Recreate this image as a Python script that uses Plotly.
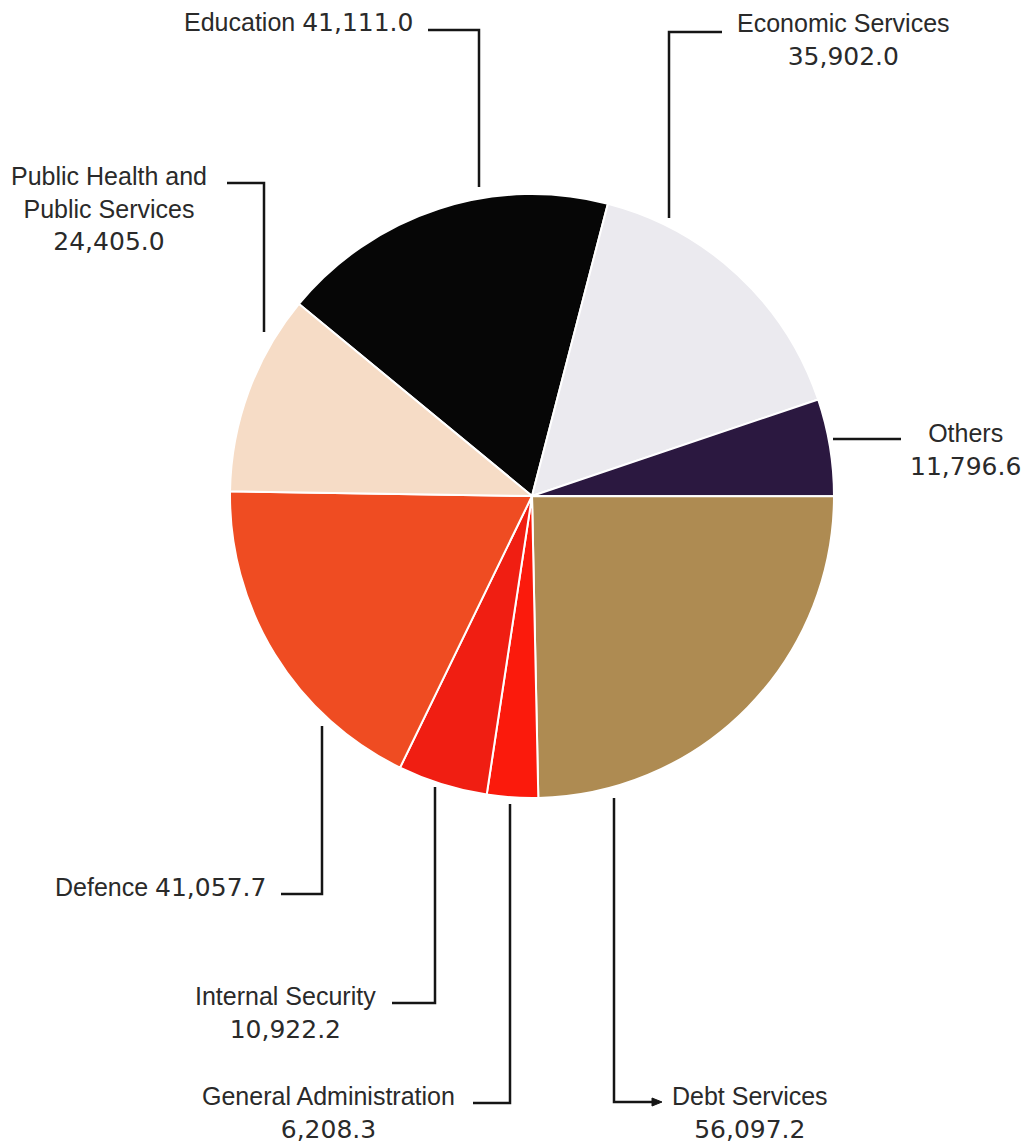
import plotly.graph_objects as go

# ---- data (clockwise from the Education slice) ----
categories = ["Education", "Economic Services", "Others", "Debt Services",
              "General Administration", "Internal Security", "Defence",
              "Public Health and Public Services"]
values = [41111.0, 35902.0, 11796.6, 56097.2, 6208.3, 10922.2, 41057.7, 24405.0]
slice_colors = ["#060606", "#ebeaef", "#2b1840", "#ae8b52",
                "#fb1a0c", "#f01e12", "#ef4c22", "#f6dcc6"]

# label wording as printed
label_names = ["Education", "Economic Services", "Others", "Debt Services",
               "General Administration", "Internal Security", "Defence",
               "Public Health and<br>Public Services"]
label_joiner = [" ", "<br>", "<br>", "<br>", "<br>", "<br>", " ", "<br>"]

# ---- layout (pixel positions in the 1033x1143 page; page body has an 8px margin) ----
PAGE_W, PAGE_H, OFF = 1033, 1143, 8
W, H = PAGE_W - OFF, PAGE_H - OFF
def px(x): return (x - OFF) / W
def py(y): return 1 - (y - OFF) / H

label_pos = [  # x, y, xanchor, align
    (415, 22, "right", "right"),
    (843, 40, "center", "center"),
    (965, 450, "center", "center"),
    (750, 1113, "center", "center"),
    (328, 1113, "center", "center"),
    (285, 1013, "center", "center"),
    (268, 887, "right", "right"),
    (109, 209, "center", "center"),
]
leader_paths = [
    [(428, 30), (479, 30), (479, 187)],
    [(722, 32), (669, 32), (669, 218)],
    [(833, 439), (901, 439)],
    [(614, 798), (614, 1102), (654, 1102)],
    [(473, 1103), (510, 1103), (510, 804)],
    [(392, 1003), (435, 1003), (435, 787)],
    [(281, 894), (322, 894), (322, 726)],
    [(227, 183), (264, 183), (264, 332)],
]

fig = go.Figure(go.Pie(
    labels=categories, values=values, sort=False, direction="clockwise",
    rotation=-50.5, textinfo="none", hoverinfo="label+value",
    marker=dict(colors=slice_colors, line=dict(color="white", width=2)),
    domain=dict(x=[px(230), px(834)], y=[py(798), py(194)]),
    showlegend=False,
))

num_font = "DejaVu Sans"
for name, join, v, (x, y, xa, al) in zip(label_names, label_joiner, values, label_pos):
    txt = f'{name}{join}<span style="font-family:{num_font}">{v:,.1f}</span>'
    fig.add_annotation(x=px(x), y=py(y), xref="paper", yref="paper", text=txt,
                       showarrow=False, xanchor=xa, yanchor="middle", align=al,
                       font=dict(family="Liberation Sans", size=25, color="#2a2a2a"))

for pts in leader_paths:
    d = "M " + " L ".join(f"{px(a)},{py(b)}" for a, b in pts)
    fig.add_shape(type="path", path=d, xref="paper", yref="paper",
                  line=dict(color="#151515", width=2.5))

# arrow head on the Debt Services leader
tip = (662, 1102)
d = f"M {px(tip[0])},{py(tip[1])} L {px(tip[0]-10)},{py(tip[1]-4)} L {px(tip[0]-10)},{py(tip[1]+4)} Z"
fig.add_shape(type="path", path=d, xref="paper", yref="paper",
              fillcolor="#151515", line=dict(color="#151515", width=1))

fig.update_layout(width=W, height=H, margin=dict(l=0, r=0, t=0, b=0),
                  paper_bgcolor="white", plot_bgcolor="white")
fig.write_html("out.html")
